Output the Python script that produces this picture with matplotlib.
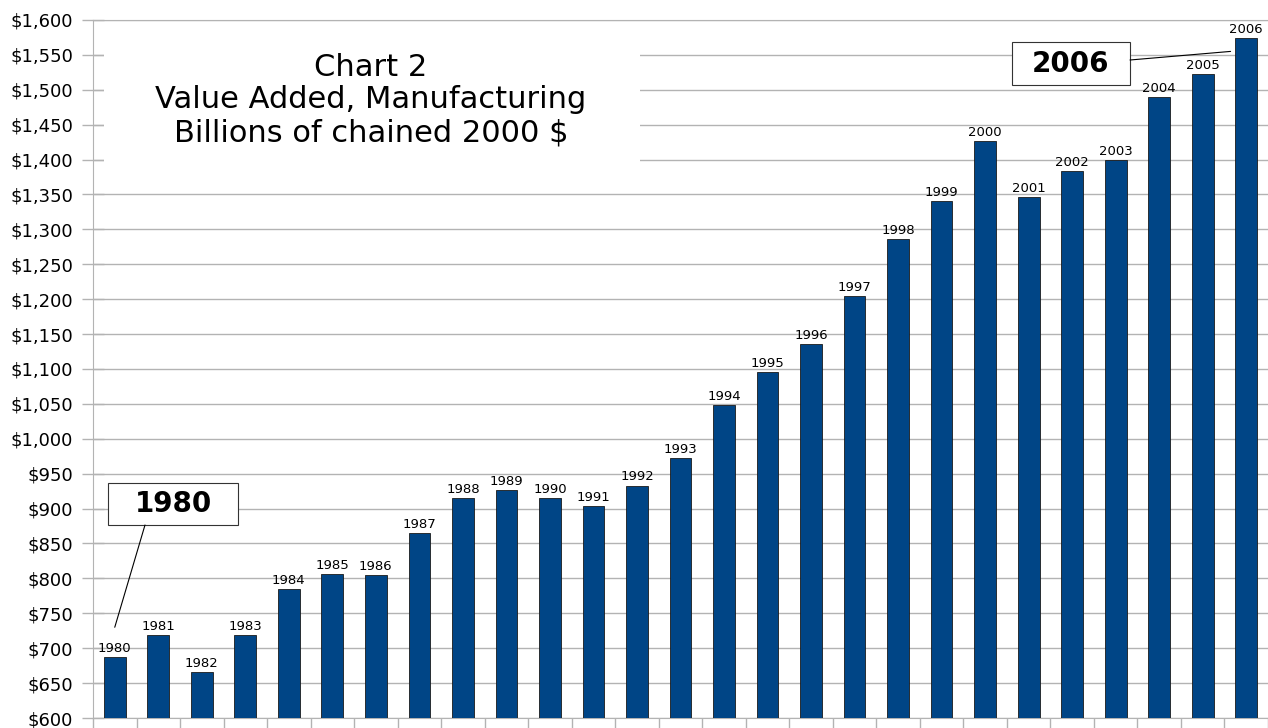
import matplotlib.pyplot as plt
import numpy as np
from matplotlib.patches import Rectangle
from matplotlib.ticker import FuncFormatter, MultipleLocator

# Value added, manufacturing, billions of chained 2000 $
years = [1980, 1981, 1982, 1983, 1984, 1985, 1986, 1987, 1988, 1989,
         1990, 1991, 1992, 1993, 1994, 1995, 1996, 1997, 1998, 1999,
         2000, 2001, 2002, 2003, 2004, 2005, 2006]
values = [687, 719, 666, 719, 785, 806, 805, 865, 915, 927,
          915, 904, 933, 973, 1048, 1096, 1136, 1205, 1286, 1341,
          1427, 1346, 1384, 1399, 1490, 1523, 1574]

title_lines = ["Chart 2", "Value Added, Manufacturing", "Billions of chained 2000 $"]

W, H = 1268, 728
fig = plt.figure(figsize=(W / 100, H / 100), dpi=100)
ax_left, ax_right, ax_top, ax_bot = 93, 1268, 20, 718
ax = fig.add_axes([ax_left / W, (H - ax_bot) / H, (ax_right - ax_left) / W, (ax_bot - ax_top) / H])

def px(x, y):  # pixel position -> axes fraction
    return (x - ax_left) / (ax_right - ax_left), (ax_bot - y) / (ax_bot - ax_top)

grey = "#b3b3b3"
x = np.arange(len(years))
ax.bar(x, values, width=0.5, color="#004586", edgecolor="#1a1a1a", linewidth=0.6, zorder=3)

for xi, yr, v in zip(x, years, values):
    ax.annotate(str(yr), (xi, v), xytext=(0, 1.5), textcoords="offset points",
                ha="center", va="bottom", fontsize=9.5, zorder=4)

ax.set_xlim(-0.5, len(years) - 0.5)
ax.set_ylim(600, 1600)
ax.yaxis.set_major_locator(MultipleLocator(50))
ax.yaxis.set_major_formatter(FuncFormatter(lambda v, p: f"${v:,.0f}"))
ax.grid(axis="y", color=grey, linewidth=1.0, zorder=0)
ax.tick_params(axis="y", direction="inout", length=16.5, width=1, color=grey,
               labelsize=13, pad=6)
ax.set_xticks(x)
ax.set_xticklabels([])
ax.tick_params(axis="x", which="major", length=0)
ax.set_xticks(np.arange(len(years) + 1) - 0.5, minor=True)
ax.tick_params(axis="x", which="minor", direction="out", length=7.5, width=1, color=grey)
for s in ["left", "bottom", "top"]:
    ax.spines[s].set_color(grey)
ax.spines["right"].set_visible(False)

# white box behind chart title
x0, y1 = px(104, 25)
x1, y0 = px(640, 180)
ax.add_patch(Rectangle((x0, y0), x1 - x0, y1 - y0, transform=ax.transAxes,
                       facecolor="white", edgecolor="none", zorder=2))
ax.text(*px(371, 100), "\n".join(title_lines), transform=ax.transAxes, ha="center",
        va="center", fontsize=22, linespacing=1.17, zorder=5)

# callout boxes
def callout(label, box, anchor, tip_year_idx, tip_value):
    bx0, by0, bx1, by1 = box
    fx0, fy1 = px(bx0, by0)
    fx1, fy0 = px(bx1, by1)
    ax.add_patch(Rectangle((fx0, fy0), fx1 - fx0, fy1 - fy0, transform=ax.transAxes,
                           facecolor="white", edgecolor="#333333", linewidth=0.8, zorder=6))
    ax.text((fx0 + fx1) / 2, (fy0 + fy1) / 2, label, transform=ax.transAxes,
            ha="center", va="center", fontsize=20, fontweight="bold", zorder=7)
    ax.annotate("", xy=(tip_year_idx, tip_value), xycoords="data",
                xytext=px(*anchor), textcoords="axes fraction",
                arrowprops=dict(arrowstyle="-", color="black", lw=0.8,
                                shrinkA=0, shrinkB=0), zorder=6)

callout("1980", (108, 483, 238, 525), (145, 525), 0.0, 730)
callout("2006", (1012, 42, 1130, 85), (1130, 60), 25.64, 1555)

fig.savefig("out.png", dpi=100)
